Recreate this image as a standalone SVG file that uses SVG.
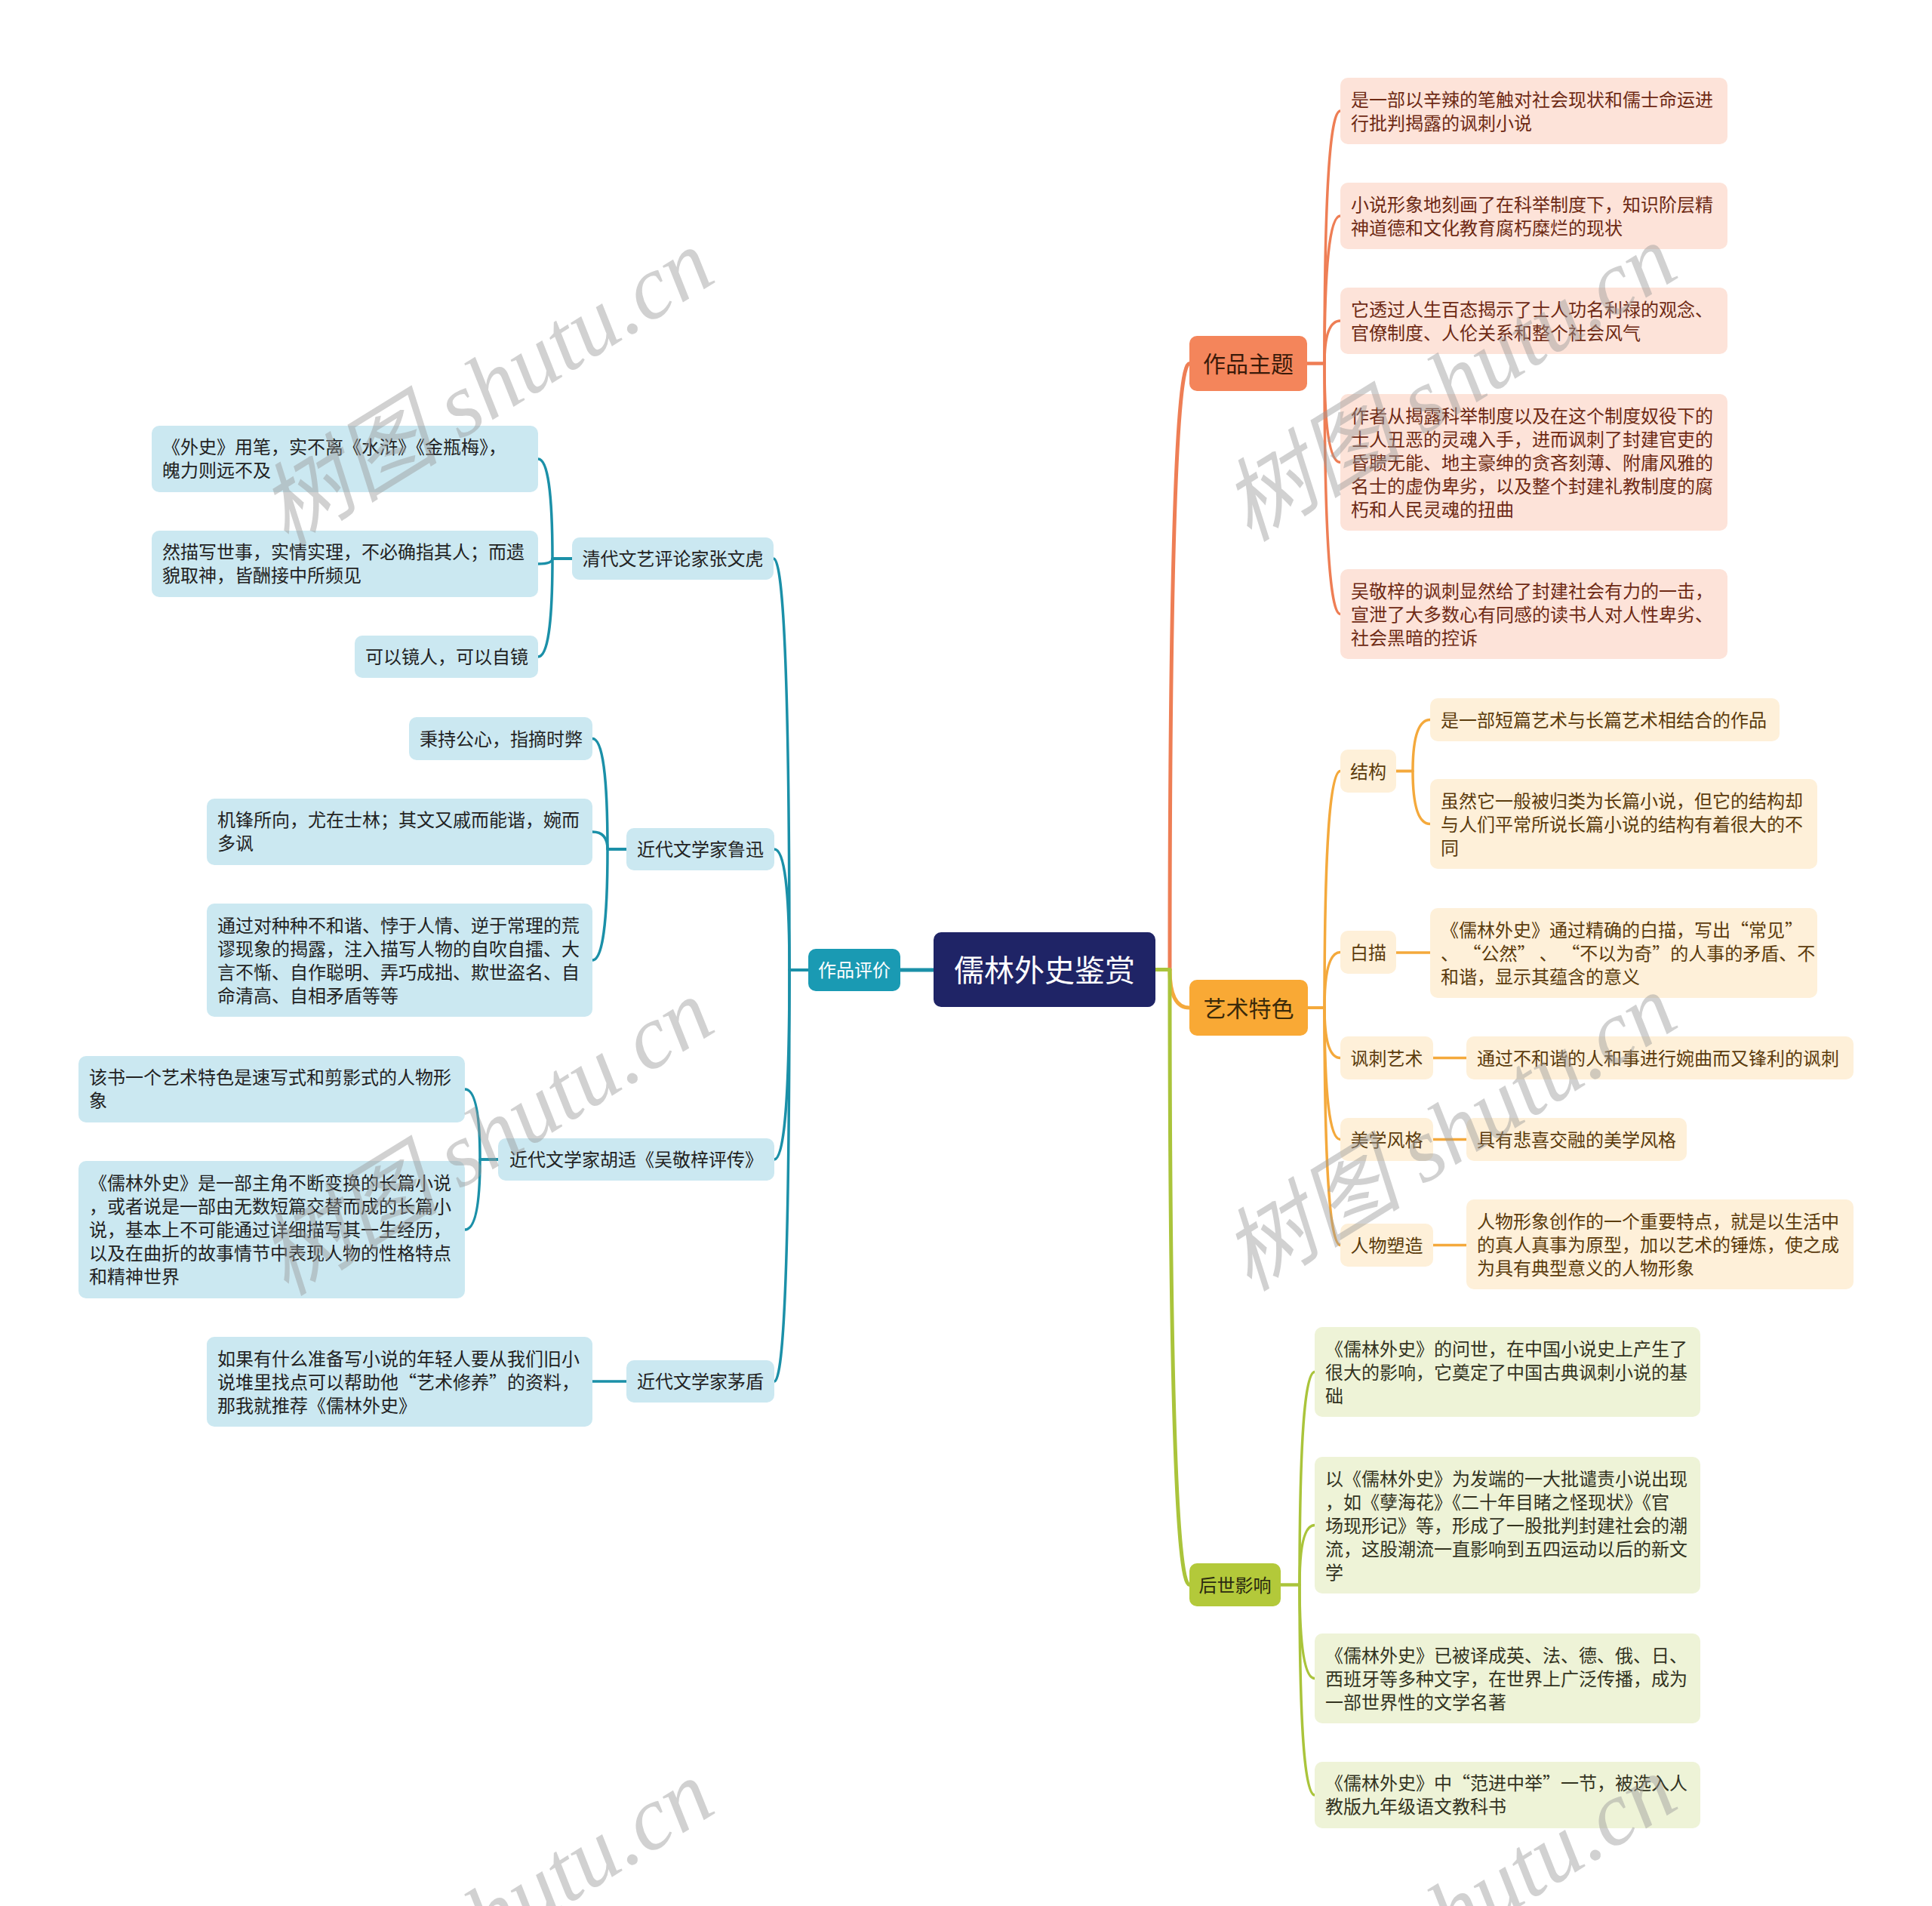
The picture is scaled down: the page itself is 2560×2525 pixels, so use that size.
<svg xmlns="http://www.w3.org/2000/svg" width="2560" height="2525" viewBox="0 0 2560 2525">
<style>
text{font-family:"Noto Sans CJK SC","Liberation Sans",sans-serif;font-size:24px}
.wm{font-family:"Liberation Serif","Noto Sans CJK SC",serif;font-style:italic;font-size:120px;fill:#9a9a9a;fill-opacity:.45}
.c{fill:none;stroke-linecap:round;stroke-linejoin:round}
.teal{stroke:#1b90a8}
.coral{stroke:#ee7e55}
.org{stroke:#f4a93c}
.grn{stroke:#aac43b}
.m{stroke-width:5}
.s{stroke-width:3.5}
.blue{fill:#cbe8f1}
.bt{fill:#222222}
.pink{fill:#fde3d9}
.pt{fill:#6e2a14}
.cream{fill:#fef0d9}
.ct{fill:#5b3b0c}
.lg{fill:#eef3d7}
.gt{fill:#33331f}
.mid{text-anchor:middle}
</style>
<rect width="2560" height="2525" fill="#ffffff"/>
<g id="connectors">
<path class="c teal m" d="M 1237 1285 H 1193"/>
<path class="c coral m" d="M 1531 1284.5 H 1550 Q 1550 481.5 1576 481.5"/>
<path class="c org m" d="M 1531 1284.5 H 1550 Q 1550 1335 1576 1335"/>
<path class="c grn m" d="M 1531 1284.5 H 1550 Q 1550 2099.5 1576 2099.5"/>
<path class="c teal s" d="M 1071 1285 H 1046 Q 1046 740 1025 740"/>
<path class="c teal s" d="M 1071 1285 H 1046 Q 1046 1125 1026 1125"/>
<path class="c teal s" d="M 1071 1285 H 1046 Q 1046 1536 1026 1536"/>
<path class="c teal s" d="M 1071 1285 H 1046 Q 1046 1830 1026 1830"/>
<path class="c teal s" d="M 758 740 H 732 Q 732 608 713 608"/>
<path class="c teal s" d="M 758 740 H 732 Q 732 747 713 747"/>
<path class="c teal s" d="M 758 740 H 732 Q 732 870 713 870"/>
<path class="c teal s" d="M 830 1125 H 805 Q 805 978.5 785 978.5"/>
<path class="c teal s" d="M 830 1125 H 805 Q 805 1102 785 1102"/>
<path class="c teal s" d="M 830 1125 H 805 Q 805 1272 785 1272"/>
<path class="c teal s" d="M 660 1536 H 636 Q 636 1443 616 1443"/>
<path class="c teal s" d="M 660 1536 H 636 Q 636 1629 616 1629"/>
<path class="c teal s" d="M 830 1830 H 785"/>
<path class="c coral s" d="M 1732 481.5 H 1755 Q 1755 147 1776 147"/>
<path class="c coral s" d="M 1732 481.5 H 1755 Q 1755 286 1776 286"/>
<path class="c coral s" d="M 1732 481.5 H 1755 Q 1755 425 1776 425"/>
<path class="c coral s" d="M 1732 481.5 H 1755 Q 1755 612.5 1776 612.5"/>
<path class="c coral s" d="M 1732 481.5 H 1755 Q 1755 813.5 1776 813.5"/>
<path class="c org s" d="M 1733 1335 H 1755 Q 1755 1021.5 1776 1021.5"/>
<path class="c org s" d="M 1733 1335 H 1755 Q 1755 1261.5 1776 1261.5"/>
<path class="c org s" d="M 1733 1335 H 1755 Q 1755 1401.5 1776 1401.5"/>
<path class="c org s" d="M 1733 1335 H 1755 Q 1755 1509.5 1776 1509.5"/>
<path class="c org s" d="M 1733 1335 H 1755 Q 1755 1649.5 1776 1649.5"/>
<path class="c org s" d="M 1850 1021.5 H 1872 Q 1872 953.5 1895 953.5"/>
<path class="c org s" d="M 1850 1021.5 H 1872 Q 1872 1091.5 1895 1091.5"/>
<path class="c org s" d="M 1850 1262 H 1895"/>
<path class="c org s" d="M 1899 1401.5 H 1943"/>
<path class="c org s" d="M 1899 1509.5 H 1943"/>
<path class="c org s" d="M 1899 1649.5 H 1943"/>
<path class="c grn s" d="M 1697 2099.5 H 1722 Q 1722 1817.5 1742 1817.5"/>
<path class="c grn s" d="M 1697 2099.5 H 1722 Q 1722 2020.5 1742 2020.5"/>
<path class="c grn s" d="M 1697 2099.5 H 1722 Q 1722 2223.5 1742 2223.5"/>
<path class="c grn s" d="M 1697 2099.5 H 1722 Q 1722 2378 1742 2378"/>
</g>
<g id="root">
<rect x="1237" y="1235" width="294" height="99" rx="10" fill="#1f2466"/>
<text class="mid" x="1384" y="1299.5" style="font-size:40px;fill:#ffffff">儒林外史鉴赏</text>
</g>
<g id="n-zppj">
<rect x="1071" y="1257" width="122" height="56" rx="10" fill="#1a9ab3"/>
<text class="mid" x="1132" y="1294" fill="#ffffff">作品评价</text>
</g>
<g id="n-zwh">
<rect class="blue" x="758" y="712" width="267" height="56" rx="10"/>
<text class="mid bt" x="891.5" y="749">清代文艺评论家张文虎</text>
</g>
<g id="n-zwh-1">
<rect class="blue" x="201" y="564" width="512" height="88" rx="10"/>
<text class="bt"><tspan x="215" y="601">《外史》用笔，实不离《水浒》《金瓶梅》，</tspan><tspan x="215" y="632">魄力则远不及</tspan></text>
</g>
<g id="n-zwh-2">
<rect class="blue" x="201" y="703" width="512" height="88" rx="10"/>
<text class="bt"><tspan x="215" y="740">然描写世事，实情实理，不必确指其人；而遗</tspan><tspan x="215" y="771">貌取神，皆酬接中所频见</tspan></text>
</g>
<g id="n-zwh-3">
<rect class="blue" x="470" y="842" width="243" height="56" rx="10"/>
<text class="bt" x="484" y="879">可以镜人，可以自镜</text>
</g>
<g id="n-lx">
<rect class="blue" x="830" y="1097" width="196" height="56" rx="10"/>
<text class="mid bt" x="928" y="1134">近代文学家鲁迅</text>
</g>
<g id="n-lx-1">
<rect class="blue" x="542" y="950" width="243" height="57" rx="10"/>
<text class="bt" x="556" y="987.5">秉持公心，指摘时弊</text>
</g>
<g id="n-lx-2">
<rect class="blue" x="274" y="1058" width="511" height="88" rx="10"/>
<text class="bt"><tspan x="288" y="1095">机锋所向，尤在士林；其文又戚而能谐，婉而</tspan><tspan x="288" y="1126">多讽</tspan></text>
</g>
<g id="n-lx-3">
<rect class="blue" x="274" y="1197" width="511" height="150" rx="10"/>
<text class="bt"><tspan x="288" y="1234.5">通过对种种不和谐、悖于人情、逆于常理的荒</tspan><tspan x="288" y="1265.5">谬现象的揭露，注入描写人物的自吹自擂、大</tspan><tspan x="288" y="1296.5">言不惭、自作聪明、弄巧成拙、欺世盗名、自</tspan><tspan x="288" y="1327.5">命清高、自相矛盾等等</tspan></text>
</g>
<g id="n-hs">
<rect class="blue" x="660" y="1508" width="366" height="56" rx="10"/>
<text class="mid bt" x="843" y="1545">近代文学家胡适《吴敬梓评传》</text>
</g>
<g id="n-hs-1">
<rect class="blue" x="104" y="1399" width="512" height="88" rx="10"/>
<text class="bt"><tspan x="118" y="1436">该书一个艺术特色是速写式和剪影式的人物形</tspan><tspan x="118" y="1467">象</tspan></text>
</g>
<g id="n-hs-2">
<rect class="blue" x="104" y="1538" width="512" height="182" rx="10"/>
<text class="bt"><tspan x="118" y="1576">《儒林外史》是一部主角不断变换的长篇小说</tspan><tspan x="118" y="1607">，或者说是一部由无数短篇交替而成的长篇小</tspan><tspan x="118" y="1638">说，基本上不可能通过详细描写其一生经历，</tspan><tspan x="118" y="1669">以及在曲折的故事情节中表现人物的性格特点</tspan><tspan x="118" y="1700">和精神世界</tspan></text>
</g>
<g id="n-md">
<rect class="blue" x="830" y="1802" width="196" height="56" rx="10"/>
<text class="mid bt" x="928" y="1839">近代文学家茅盾</text>
</g>
<g id="n-md-1">
<rect class="blue" x="274" y="1771" width="511" height="119" rx="10"/>
<text class="bt"><tspan x="288" y="1808.5">如果有什么准备写小说的年轻人要从我们旧小</tspan><tspan x="288" y="1839.5">说堆里找点可以帮助他“艺术修养”的资料，</tspan><tspan x="288" y="1870.5">那我就推荐《儒林外史》</tspan></text>
</g>
<g id="n-zpzt">
<rect x="1576" y="445" width="156" height="73" rx="10" fill="#f4855b"/>
<text class="mid" x="1654" y="493" style="font-size:30px;fill:#3a1a0a">作品主题</text>
</g>
<g id="n-zpzt-1">
<rect class="pink" x="1776" y="103" width="513" height="88" rx="10"/>
<text class="pt"><tspan x="1790" y="140.5">是一部以辛辣的笔触对社会现状和儒士命运进</tspan><tspan x="1790" y="171.5">行批判揭露的讽刺小说</tspan></text>
</g>
<g id="n-zpzt-2">
<rect class="pink" x="1776" y="242" width="513" height="88" rx="10"/>
<text class="pt"><tspan x="1790" y="279.5">小说形象地刻画了在科举制度下，知识阶层精</tspan><tspan x="1790" y="310.5">神道德和文化教育腐朽糜烂的现状</tspan></text>
</g>
<g id="n-zpzt-3">
<rect class="pink" x="1776" y="381" width="513" height="88" rx="10"/>
<text class="pt"><tspan x="1790" y="418.5">它透过人生百态揭示了士人功名利禄的观念、</tspan><tspan x="1790" y="449.5">官僚制度、人伦关系和整个社会风气</tspan></text>
</g>
<g id="n-zpzt-4">
<rect class="pink" x="1776" y="522" width="513" height="181" rx="10"/>
<text class="pt"><tspan x="1790" y="559.5">作者从揭露科举制度以及在这个制度奴役下的</tspan><tspan x="1790" y="590.5">士人丑恶的灵魂入手，进而讽刺了封建官吏的</tspan><tspan x="1790" y="621.5">昏聩无能、地主豪绅的贪吝刻薄、附庸风雅的</tspan><tspan x="1790" y="652.5">名士的虚伪卑劣，以及整个封建礼教制度的腐</tspan><tspan x="1790" y="683.5">朽和人民灵魂的扭曲</tspan></text>
</g>
<g id="n-zpzt-5">
<rect class="pink" x="1776" y="754" width="513" height="119" rx="10"/>
<text class="pt"><tspan x="1790" y="791.5">吴敬梓的讽刺显然给了封建社会有力的一击，</tspan><tspan x="1790" y="822.5">宣泄了大多数心有同感的读书人对人性卑劣、</tspan><tspan x="1790" y="853.5">社会黑暗的控诉</tspan></text>
</g>
<g id="n-ystс">
<rect x="1576" y="1298" width="157" height="74" rx="10" fill="#f9a935"/>
<text class="mid" x="1654.5" y="1346.5" style="font-size:30px;fill:#3a2a0a">艺术特色</text>
</g>
<g id="n-jg">
<rect class="cream" x="1776" y="993" width="74" height="57" rx="10"/>
<text class="mid ct" x="1813" y="1030.5">结构</text>
</g>
<g id="n-jg-1">
<rect class="cream" x="1895" y="925" width="463" height="57" rx="10"/>
<text class="ct" x="1909" y="962.5">是一部短篇艺术与长篇艺术相结合的作品</text>
</g>
<g id="n-jg-2">
<rect class="cream" x="1895" y="1032" width="513" height="119" rx="10"/>
<text class="ct"><tspan x="1909" y="1069.5">虽然它一般被归类为长篇小说，但它的结构却</tspan><tspan x="1909" y="1100.5">与人们平常所说长篇小说的结构有着很大的不</tspan><tspan x="1909" y="1131.5">同</tspan></text>
</g>
<g id="n-bm">
<rect class="cream" x="1776" y="1233" width="74" height="57" rx="10"/>
<text class="mid ct" x="1813" y="1270.5">白描</text>
</g>
<g id="n-bm-1">
<rect class="cream" x="1895" y="1203" width="513" height="119" rx="10"/>
<text class="ct"><tspan x="1909" y="1240.5">《儒林外史》通过精确的白描，写出“常见”</tspan><tspan x="1909" y="1271.5">、 “公然” 、 “不以为奇”的人事的矛盾、不</tspan><tspan x="1909" y="1302.5">和谐，显示其蕴含的意义</tspan></text>
</g>
<g id="n-fcys">
<rect class="cream" x="1776" y="1373" width="123" height="57" rx="10"/>
<text class="mid ct" x="1837.5" y="1410.5">讽刺艺术</text>
</g>
<g id="n-fcys-1">
<rect class="cream" x="1943" y="1373" width="513" height="57" rx="10"/>
<text class="ct" x="1957" y="1410.5">通过不和谐的人和事进行婉曲而又锋利的讽刺</text>
</g>
<g id="n-mxfg">
<rect class="cream" x="1776" y="1481" width="123" height="57" rx="10"/>
<text class="mid ct" x="1837.5" y="1518.5">美学风格</text>
</g>
<g id="n-mxfg-1">
<rect class="cream" x="1943" y="1481" width="292" height="57" rx="10"/>
<text class="ct" x="1957" y="1518.5">具有悲喜交融的美学风格</text>
</g>
<g id="n-rwsz">
<rect class="cream" x="1776" y="1621" width="123" height="57" rx="10"/>
<text class="mid ct" x="1837.5" y="1658.5">人物塑造</text>
</g>
<g id="n-rwsz-1">
<rect class="cream" x="1943" y="1589" width="513" height="119" rx="10"/>
<text class="ct"><tspan x="1957" y="1626.5">人物形象创作的一个重要特点，就是以生活中</tspan><tspan x="1957" y="1657.5">的真人真事为原型，加以艺术的锤炼，使之成</tspan><tspan x="1957" y="1688.5">为具有典型意义的人物形象</tspan></text>
</g>
<g id="n-hsyx">
<rect x="1576" y="2071" width="121" height="57" rx="10" fill="#b3c93a"/>
<text class="mid" x="1636.5" y="2108.5" fill="#2a2a10">后世影响</text>
</g>
<g id="n-hsyx-1">
<rect class="lg" x="1742" y="1758" width="511" height="119" rx="10"/>
<text class="gt"><tspan x="1756" y="1795.5">《儒林外史》的问世，在中国小说史上产生了</tspan><tspan x="1756" y="1826.5">很大的影响，它奠定了中国古典讽刺小说的基</tspan><tspan x="1756" y="1857.5">础</tspan></text>
</g>
<g id="n-hsyx-2">
<rect class="lg" x="1742" y="1930" width="511" height="181" rx="10"/>
<text class="gt"><tspan x="1756" y="1967.5">以《儒林外史》为发端的一大批谴责小说出现</tspan><tspan x="1756" y="1998.5">，如《孽海花》《二十年目睹之怪现状》《官</tspan><tspan x="1756" y="2029.5">场现形记》等，形成了一股批判封建社会的潮</tspan><tspan x="1756" y="2060.5">流，这股潮流一直影响到五四运动以后的新文</tspan><tspan x="1756" y="2091.5">学</tspan></text>
</g>
<g id="n-hsyx-3">
<rect class="lg" x="1742" y="2164" width="511" height="119" rx="10"/>
<text class="gt"><tspan x="1756" y="2201.5">《儒林外史》已被译成英、法、德、俄、日、</tspan><tspan x="1756" y="2232.5">西班牙等多种文字，在世界上广泛传播，成为</tspan><tspan x="1756" y="2263.5">一部世界性的文学名著</tspan></text>
</g>
<g id="n-hsyx-4">
<rect class="lg" x="1742" y="2334" width="511" height="88" rx="10"/>
<text class="gt"><tspan x="1756" y="2371">《儒林外史》中“范进中举”一节，被选入人</tspan><tspan x="1756" y="2402">教版九年级语文教科书</tspan></text>
</g>
<g id="watermarks">
<text class="wm mid" x="666" y="548" transform="rotate(-31.7 666 548)">树图 shutu.cn</text>
<text class="wm mid" x="1942" y="542" transform="rotate(-31.7 1942 542)">树图 shutu.cn</text>
<text class="wm mid" x="666" y="1541" transform="rotate(-31.7 666 1541)">树图 shutu.cn</text>
<text class="wm mid" x="1942" y="1535" transform="rotate(-31.7 1942 1535)">树图 shutu.cn</text>
<text class="wm mid" x="666" y="2576" transform="rotate(-31.7 666 2576)">树图 shutu.cn</text>
<text class="wm mid" x="1942" y="2570" transform="rotate(-31.7 1942 2570)">树图 shutu.cn</text>
</g>
</svg>
